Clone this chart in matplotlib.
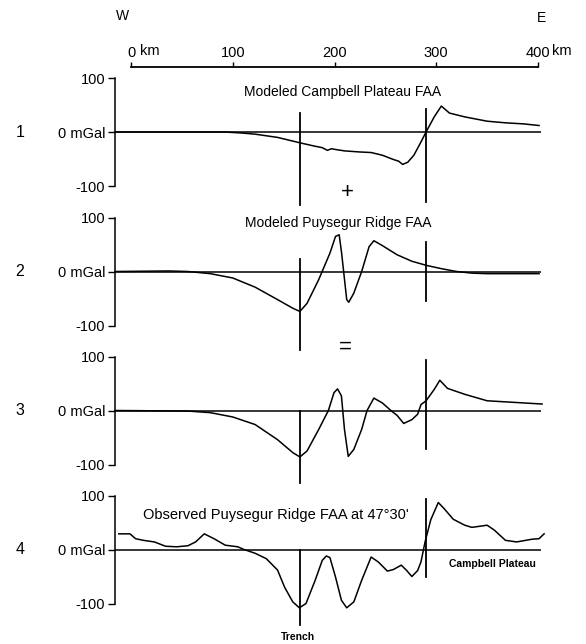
import matplotlib
matplotlib.use("Agg")
import matplotlib.pyplot as plt

plt.rcParams['font.family'] = ['Liberation Sans', 'DejaVu Sans']

# ---------------- data ----------------
trench_km = 166
boundary_km = 290

km1 = [-15.7, 30, 92, 110, 122, 144, 166, 180, 188, 193, 197, 203, 210, 225, 236, 247,
       258, 263, 267, 272, 278, 284, 290, 298, 305, 313, 328, 350, 368, 386, 401]
v1 = [0, 0, 0, -2, -4, -10, -20, -26, -29, -34, -31, -33, -35, -37, -38, -43,
      -51, -54, -60, -56, -43, -22, 0, 28, 48, 35, 28, 20, 17, 15, 12]

km2 = [-15.7, 37.5, 56, 78, 100, 122, 144, 159, 166, 173, 184.5, 195.5, 201, 204.6, 207,
       212, 214, 219, 226.7, 234, 238.7, 247, 261.5, 276, 291, 305.7, 320, 335, 350, 401]
v2 = [0, 1, 0, -4, -12, -29, -52, -68, -74, -59, -15, 34, 65, 68, 34,
      -52, -57, -40, 0, 46, 57, 48, 31, 19, 11, 5, 0, -3, -4, -4]

km3 = [-15.7, 56, 78, 100, 122, 144, 159, 166, 173, 184.5, 194, 199.5, 203, 206.8, 209.8,
       213.5, 219, 226.7, 232, 238.7, 247, 256, 261.5, 268, 276, 281.7, 285, 290, 298,
       303.5, 311, 328, 350, 368, 404]
v3 = [0, -1, -4, -12, -26, -54, -78, -86, -75, -35, 0, 33, 40, 27, -35,
      -85, -72, -35, 0, 23, 14, -1, -9, -24, -17, -7, 11, 18, 39,
      56, 41, 30, 18, 16, 12]

km4 = [-12, -1, 4.5, 12, 23, 34, 45, 56, 63.5, 72, 81.6, 92.6, 105, 111, 122, 133, 144,
       151, 159, 165.5, 172, 181, 188, 192, 195.5, 201, 206.8, 212, 219, 226.7, 236, 243,
       252, 258, 265.6, 271, 276, 281.7, 285, 289, 294.6, 302, 307.6, 316.7, 328, 335,
       342.6, 350, 357, 368, 379, 394, 401, 406]
v4 = [29, 29, 20, 17, 14, 6, 5, 7, 14, 29, 20, 8, 5, 0, -7, -17, -38,
      -70, -97, -108, -100, -57, -20, -12, -15, -51, -94, -108, -97, -57, -14, -23,
      -40, -37, -29, -39, -50, -39, -23, 14, 55, 87, 76, 56, 45, 41,
      43, 45, 36, 17, 14, 19, 20, 29]

panel_numbers = ['1', '2', '3', '4']
panel_titles = ['Modeled Campbell Plateau FAA', 'Modeled Puysegur Ridge FAA', '',
                "Observed Puysegur Ridge FAA at 47°30'"]
ytick_vals = [-100, 0, 100]
ytick_labels = ['-100', '0 mGal', '100']
scale_ticks = [0, 100, 200, 300, 400]
scale_labels = ['0', '100', '200', '300', '400']

# vertical marker extents (mGal) per panel: (top, bottom)
trench_ext = [(35, -135), (24, -146), (0, -135), (0, -140)]
boundary_ext = [(43, -130), (54, -54), (93, -72), (93, -50)]

curves = [(km1, v1), (km2, v2), (km3, v3), (km4, v4)]

# ---------------- layout ----------------
W, H = 586, 644
fig = plt.figure(figsize=(W / 100, H / 100), dpi=100)


def fx(px):
    return px / W


def fy(py):
    return 1 - py / H


PX_PER_KM = 1.0175
KM0_PX = 131
AX_L, AX_R = 115, 541
xlim = ((AX_L - KM0_PX) / PX_PER_KM, (AX_R - KM0_PX) / PX_PER_KM)
zeros = [132, 271.5, 410.5, 549.5]
half = 54

for i, z in enumerate(zeros):
    ax = fig.add_axes([fx(AX_L), fy(z + half), (AX_R - AX_L) / W, 2 * half / H])
    ax.set_xlim(*xlim)
    ax.set_ylim(-100, 100)
    ax.patch.set_visible(False)
    for s in ['top', 'right', 'bottom']:
        ax.spines[s].set_visible(False)
    ax.spines['left'].set_linewidth(1.1)
    ax.set_xticks([])
    ax.set_yticks(ytick_vals)
    ax.set_yticklabels(ytick_labels)
    ax.tick_params(axis='y', direction='out', length=5, width=1, pad=2, labelsize=10.5)
    ax.axhline(0, color='black', lw=1.1)
    km, v = curves[i]
    ax.plot(km, v, color='black', lw=1.1, clip_on=False)
    ax.plot([trench_km, trench_km], trench_ext[i], color='black', lw=1.3, clip_on=False)
    ax.plot([boundary_km, boundary_km], boundary_ext[i], color='black', lw=1.3, clip_on=False)
    fig.text(fx(20), fy(z), panel_numbers[i], ha='center', va='center', fontsize=11.5)

# titles
fig.text(fx(343), fy(92), panel_titles[0], ha='center', va='center', fontsize=10)
fig.text(fx(338), fy(223), panel_titles[1], ha='center', va='center', fontsize=10)
fig.text(fx(276), fy(515), panel_titles[3], ha='center', va='center', fontsize=10.5)
fig.text(fx(347), fy(192), '+', ha='center', va='center', fontsize=16)
fig.text(fx(345), fy(347), '=', ha='center', va='center', fontsize=16)
fig.text(fx(492), fy(564), 'Campbell Plateau', ha='center', va='center', fontsize=7.5,
         fontweight='bold', family=['Liberation Sans Narrow', 'Liberation Sans'])
fig.text(fx(298), fy(637), 'Trench', ha='center', va='center', fontsize=7.5,
         fontweight='bold', family=['Liberation Sans Narrow', 'Liberation Sans'])

# top distance scale
axs = fig.add_axes([fx(AX_L), fy(67), (AX_R - AX_L) / W, 0.0001])
axs.set_xlim(*xlim)
axs.patch.set_visible(False)
for s in ['bottom', 'left', 'right']:
    axs.spines[s].set_visible(False)
axs.spines['top'].set_bounds(scale_ticks[0], scale_ticks[-1])
axs.spines['top'].set_linewidth(1.3)
axs.set_yticks([])
axs.xaxis.set_ticks_position('top')
axs.set_xticks(scale_ticks)
axs.set_xticklabels(scale_labels)
axs.tick_params(axis='x', direction='out', length=3.5, width=1, pad=1.5, labelsize=10.5)
fig.text(fx(140), fy(51), 'km', ha='left', va='center', fontsize=10.5)
fig.text(fx(552), fy(51), 'km', ha='left', va='center', fontsize=10.5)

fig.text(fx(122), fy(16), 'W', ha='center', va='center', fontsize=10)
fig.text(fx(542), fy(18), 'E', ha='center', va='center', fontsize=10)

fig.savefig('out.png', dpi=100)
